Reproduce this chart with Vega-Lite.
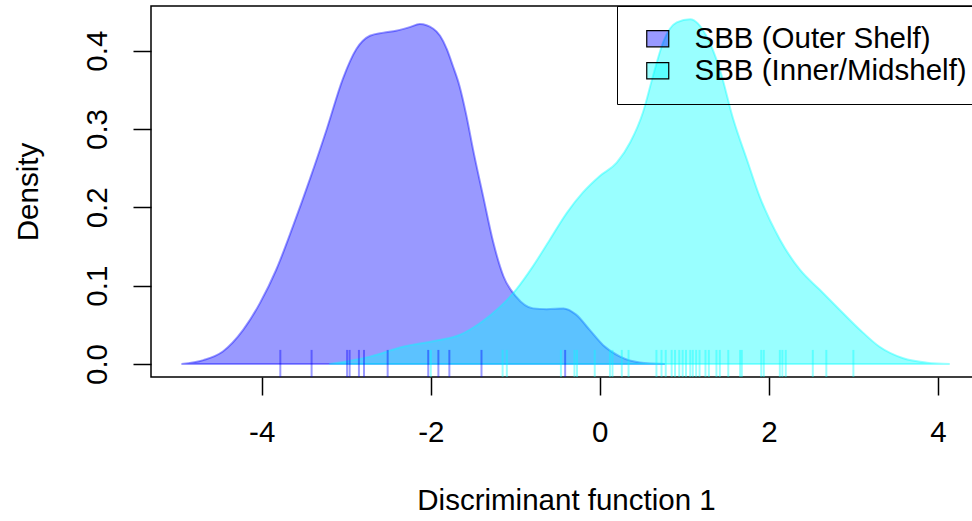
{
  "$schema": "https://vega.github.io/schema/vega-lite/v6.json",
  "width": 830,
  "height": 371,
  "autosize": "none",
  "padding": {"left": 151, "top": 6, "right": 0, "bottom": 144},
  "background": "white",
  "config": {
    "view": {"stroke": "black", "strokeWidth": 1.5},
    "font": "Liberation Sans",
    "axis": {"grid": false, "domain": false, "tickColor": "black", "tickWidth": 1.5, "tickSize": 18,
      "labelFont": "Liberation Sans", "labelFontSize": 29.5, "labelColor": "black",
      "titleFont": "Liberation Sans", "titleFontSize": 29.5, "titleFontWeight": "normal", "titleColor": "black"}
  },
  "datasets": {
    "dens": [
      {"group": "SBB (Outer Shelf)", "x": -4.95, "y": 0},
      {"group": "SBB (Outer Shelf)", "x": -4.69, "y": 0.005},
      {"group": "SBB (Outer Shelf)", "x": -4.46, "y": 0.016},
      {"group": "SBB (Outer Shelf)", "x": -4.22, "y": 0.0435},
      {"group": "SBB (Outer Shelf)", "x": -4.02, "y": 0.078},
      {"group": "SBB (Outer Shelf)", "x": -3.83, "y": 0.12},
      {"group": "SBB (Outer Shelf)", "x": -3.63, "y": 0.176},
      {"group": "SBB (Outer Shelf)", "x": -3.43, "y": 0.236},
      {"group": "SBB (Outer Shelf)", "x": -3.23, "y": 0.30},
      {"group": "SBB (Outer Shelf)", "x": -3.04, "y": 0.364},
      {"group": "SBB (Outer Shelf)", "x": -2.88, "y": 0.402},
      {"group": "SBB (Outer Shelf)", "x": -2.72, "y": 0.419},
      {"group": "SBB (Outer Shelf)", "x": -2.56, "y": 0.423},
      {"group": "SBB (Outer Shelf)", "x": -2.41, "y": 0.4255},
      {"group": "SBB (Outer Shelf)", "x": -2.25, "y": 0.43},
      {"group": "SBB (Outer Shelf)", "x": -2.13, "y": 0.434},
      {"group": "SBB (Outer Shelf)", "x": -1.97, "y": 0.428},
      {"group": "SBB (Outer Shelf)", "x": -1.89, "y": 0.419},
      {"group": "SBB (Outer Shelf)", "x": -1.81, "y": 0.402},
      {"group": "SBB (Outer Shelf)", "x": -1.74, "y": 0.381},
      {"group": "SBB (Outer Shelf)", "x": -1.66, "y": 0.355},
      {"group": "SBB (Outer Shelf)", "x": -1.58, "y": 0.318},
      {"group": "SBB (Outer Shelf)", "x": -1.50, "y": 0.274},
      {"group": "SBB (Outer Shelf)", "x": -1.38, "y": 0.214},
      {"group": "SBB (Outer Shelf)", "x": -1.26, "y": 0.155},
      {"group": "SBB (Outer Shelf)", "x": -1.14, "y": 0.112},
      {"group": "SBB (Outer Shelf)", "x": -0.99, "y": 0.086},
      {"group": "SBB (Outer Shelf)", "x": -0.79, "y": 0.071},
      {"group": "SBB (Outer Shelf)", "x": -0.63, "y": 0.070},
      {"group": "SBB (Outer Shelf)", "x": -0.43, "y": 0.071},
      {"group": "SBB (Outer Shelf)", "x": -0.28, "y": 0.063},
      {"group": "SBB (Outer Shelf)", "x": -0.12, "y": 0.0435},
      {"group": "SBB (Outer Shelf)", "x": 0.04, "y": 0.024},
      {"group": "SBB (Outer Shelf)", "x": 0.24, "y": 0.0094},
      {"group": "SBB (Outer Shelf)", "x": 0.47, "y": 0.002},
      {"group": "SBB (Outer Shelf)", "x": 0.77, "y": 0},
      {"group": "SBB (Inner/Midshelf)", "x": -3.2, "y": 0},
      {"group": "SBB (Inner/Midshelf)", "x": -2.72, "y": 0.0094},
      {"group": "SBB (Inner/Midshelf)", "x": -2.33, "y": 0.022},
      {"group": "SBB (Inner/Midshelf)", "x": -1.93, "y": 0.030},
      {"group": "SBB (Inner/Midshelf)", "x": -1.66, "y": 0.037},
      {"group": "SBB (Inner/Midshelf)", "x": -1.42, "y": 0.052},
      {"group": "SBB (Inner/Midshelf)", "x": -1.18, "y": 0.073},
      {"group": "SBB (Inner/Midshelf)", "x": -0.99, "y": 0.095},
      {"group": "SBB (Inner/Midshelf)", "x": -0.79, "y": 0.125},
      {"group": "SBB (Inner/Midshelf)", "x": -0.59, "y": 0.159},
      {"group": "SBB (Inner/Midshelf)", "x": -0.39, "y": 0.193},
      {"group": "SBB (Inner/Midshelf)", "x": -0.20, "y": 0.219},
      {"group": "SBB (Inner/Midshelf)", "x": 0.0, "y": 0.24},
      {"group": "SBB (Inner/Midshelf)", "x": 0.20, "y": 0.257},
      {"group": "SBB (Inner/Midshelf)", "x": 0.36, "y": 0.283},
      {"group": "SBB (Inner/Midshelf)", "x": 0.51, "y": 0.321},
      {"group": "SBB (Inner/Midshelf)", "x": 0.63, "y": 0.368},
      {"group": "SBB (Inner/Midshelf)", "x": 0.75, "y": 0.411},
      {"group": "SBB (Inner/Midshelf)", "x": 0.91, "y": 0.436},
      {"group": "SBB (Inner/Midshelf)", "x": 1.07, "y": 0.44},
      {"group": "SBB (Inner/Midshelf)", "x": 1.26, "y": 0.419},
      {"group": "SBB (Inner/Midshelf)", "x": 1.42, "y": 0.376},
      {"group": "SBB (Inner/Midshelf)", "x": 1.58, "y": 0.312},
      {"group": "SBB (Inner/Midshelf)", "x": 1.74, "y": 0.261},
      {"group": "SBB (Inner/Midshelf)", "x": 1.89, "y": 0.214},
      {"group": "SBB (Inner/Midshelf)", "x": 2.13, "y": 0.159},
      {"group": "SBB (Inner/Midshelf)", "x": 2.37, "y": 0.12},
      {"group": "SBB (Inner/Midshelf)", "x": 2.60, "y": 0.095},
      {"group": "SBB (Inner/Midshelf)", "x": 2.84, "y": 0.069},
      {"group": "SBB (Inner/Midshelf)", "x": 3.08, "y": 0.0435},
      {"group": "SBB (Inner/Midshelf)", "x": 3.31, "y": 0.022},
      {"group": "SBB (Inner/Midshelf)", "x": 3.59, "y": 0.0073},
      {"group": "SBB (Inner/Midshelf)", "x": 3.87, "y": 0.0017},
      {"group": "SBB (Inner/Midshelf)", "x": 4.14, "y": 0}
    ],
    "rug": [
      {"group": "SBB (Outer Shelf)", "x": -3.78},
      {"group": "SBB (Outer Shelf)", "x": -3.41},
      {"group": "SBB (Outer Shelf)", "x": -2.99},
      {"group": "SBB (Outer Shelf)", "x": -2.96},
      {"group": "SBB (Outer Shelf)", "x": -2.85},
      {"group": "SBB (Outer Shelf)", "x": -2.79},
      {"group": "SBB (Outer Shelf)", "x": -2.51},
      {"group": "SBB (Outer Shelf)", "x": -2.03},
      {"group": "SBB (Outer Shelf)", "x": -1.91},
      {"group": "SBB (Outer Shelf)", "x": -1.78},
      {"group": "SBB (Outer Shelf)", "x": -1.40},
      {"group": "SBB (Outer Shelf)", "x": -0.41},
      {"group": "SBB (Inner/Midshelf)", "x": -2.00},
      {"group": "SBB (Inner/Midshelf)", "x": -1.15},
      {"group": "SBB (Inner/Midshelf)", "x": -1.10},
      {"group": "SBB (Inner/Midshelf)", "x": -0.46},
      {"group": "SBB (Inner/Midshelf)", "x": -0.30},
      {"group": "SBB (Inner/Midshelf)", "x": -0.27},
      {"group": "SBB (Inner/Midshelf)", "x": -0.06},
      {"group": "SBB (Inner/Midshelf)", "x": 0.12},
      {"group": "SBB (Inner/Midshelf)", "x": 0.15},
      {"group": "SBB (Inner/Midshelf)", "x": 0.26},
      {"group": "SBB (Inner/Midshelf)", "x": 0.34},
      {"group": "SBB (Inner/Midshelf)", "x": 0.67},
      {"group": "SBB (Inner/Midshelf)", "x": 0.73},
      {"group": "SBB (Inner/Midshelf)", "x": 0.78},
      {"group": "SBB (Inner/Midshelf)", "x": 0.85},
      {"group": "SBB (Inner/Midshelf)", "x": 0.89},
      {"group": "SBB (Inner/Midshelf)", "x": 0.94},
      {"group": "SBB (Inner/Midshelf)", "x": 0.98},
      {"group": "SBB (Inner/Midshelf)", "x": 1.02},
      {"group": "SBB (Inner/Midshelf)", "x": 1.07},
      {"group": "SBB (Inner/Midshelf)", "x": 1.10},
      {"group": "SBB (Inner/Midshelf)", "x": 1.14},
      {"group": "SBB (Inner/Midshelf)", "x": 1.18},
      {"group": "SBB (Inner/Midshelf)", "x": 1.25},
      {"group": "SBB (Inner/Midshelf)", "x": 1.29},
      {"group": "SBB (Inner/Midshelf)", "x": 1.38},
      {"group": "SBB (Inner/Midshelf)", "x": 1.42},
      {"group": "SBB (Inner/Midshelf)", "x": 1.52},
      {"group": "SBB (Inner/Midshelf)", "x": 1.66},
      {"group": "SBB (Inner/Midshelf)", "x": 1.68},
      {"group": "SBB (Inner/Midshelf)", "x": 1.91},
      {"group": "SBB (Inner/Midshelf)", "x": 1.94},
      {"group": "SBB (Inner/Midshelf)", "x": 2.13},
      {"group": "SBB (Inner/Midshelf)", "x": 2.16},
      {"group": "SBB (Inner/Midshelf)", "x": 2.20},
      {"group": "SBB (Inner/Midshelf)", "x": 2.52},
      {"group": "SBB (Inner/Midshelf)", "x": 2.68},
      {"group": "SBB (Inner/Midshelf)", "x": 3.00}
    ]
  },
  "layer": [
    {
      "data": {"name": "dens"},
      "transform": [{"filter": "datum.group === 'SBB (Outer Shelf)'"}],
      "mark": {"type": "area", "interpolate": "monotone", "stroke": "rgba(0,0,255,0.4)", "strokeWidth": 2, "clip": true},
      "encoding": {
        "x": {"field": "x", "type": "quantitative",
          "scale": {"domain": [-5.31, 4.51], "nice": false, "zero": false},
          "axis": {"values": [-4, -2, 0, 2, 4], "labelExpr": "'' + datum.value", "title": "Discriminant function 1", "labelPadding": 23, "titlePadding": 40}},
        "y": {"field": "y", "type": "quantitative", "stack": null,
          "scale": {"domain": [-0.0166, 0.457], "nice": false, "zero": false},
          "axis": {"values": [0, 0.1, 0.2, 0.3, 0.4], "format": ".1f", "title": "Density",
            "labelAngle": -90, "labelAlign": "center", "labelBaseline": "bottom", "labelPadding": 21, "titlePadding": 39}},
        "y2": {"datum": 0},
        "fill": {"field": "group", "type": "nominal",
          "scale": {"domain": ["SBB (Outer Shelf)", "SBB (Inner/Midshelf)"], "range": ["rgba(0,0,255,0.4)", "rgba(0,255,255,0.4)"]},
          "legend": {"title": null, "orient": "none", "legendX": 466, "legendY": 0,
            "strokeColor": "black", "cornerRadius": 0, "padding": 18, "fillColor": null,
            "symbolType": "M-1,-0.73L1,-0.73L1,0.73L-1,0.73Z", "symbolSize": 484, "symbolStrokeColor": "black", "symbolStrokeWidth": 1.2,
            "symbolOffset": 8, "labelOffset": 22, "labelFontSize": 29.5, "labelFont": "Liberation Sans", "labelColor": "black",
            "rowPadding": 1, "labelLimit": 600,
            "encode": {"symbols": {"update": {
              "fill": {"signal": "datum.label === 'SBB (Outer Shelf)' ? '#9999ff' : '#99ffff'"},
              "fillOpacity": {"value": 1},
              "stroke": {"value": "black"},
              "strokeWidth": {"value": 1.2}
            }}}}}
      }
    },
    {
      "data": {"name": "dens"},
      "transform": [{"filter": "datum.group === 'SBB (Inner/Midshelf)'"}],
      "mark": {"type": "area", "interpolate": "monotone", "stroke": "rgba(0,255,255,0.4)", "strokeWidth": 2, "clip": true},
      "encoding": {
        "x": {"field": "x", "type": "quantitative"},
        "y": {"field": "y", "type": "quantitative", "stack": null},
        "y2": {"datum": 0},
        "fill": {"field": "group", "type": "nominal"}
      }
    },
    {
      "data": {"name": "rug"},
      "transform": [{"filter": "datum.group === 'SBB (Outer Shelf)'"}],
      "mark": {"type": "rule", "strokeWidth": 2, "stroke": "rgba(0,0,255,0.4)"},
      "encoding": {
        "x": {"field": "x", "type": "quantitative"},
        "y": {"datum": 0.018},
        "y2": {"datum": -0.0166}
      }
    },
    {
      "data": {"name": "rug"},
      "transform": [{"filter": "datum.group === 'SBB (Inner/Midshelf)'"}],
      "mark": {"type": "rule", "strokeWidth": 2, "stroke": "rgba(0,255,255,0.4)"},
      "encoding": {
        "x": {"field": "x", "type": "quantitative"},
        "y": {"datum": 0.018},
        "y2": {"datum": -0.0166}
      }
    }
  ]
}
